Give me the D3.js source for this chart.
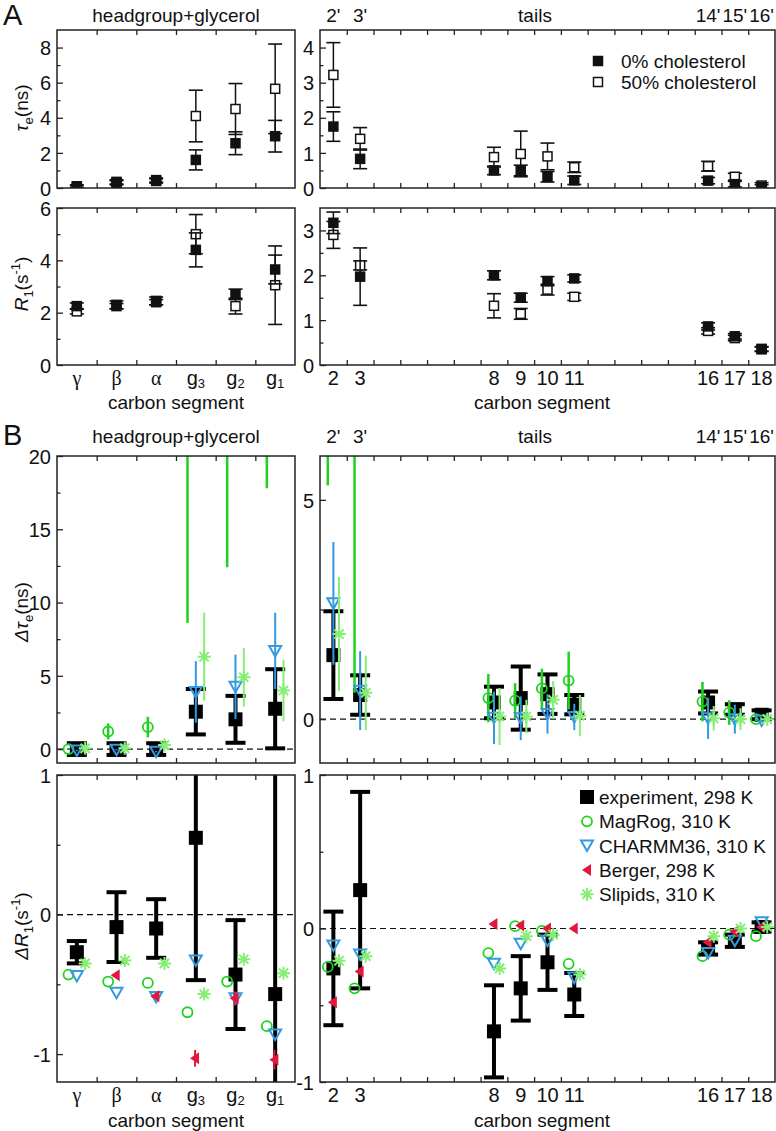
<!DOCTYPE html>
<html><head><meta charset="utf-8">
<script src="https://cdn.jsdelivr.net/npm/d3@7"></script>
<style>
body{margin:0;background:#fff}
text{font-family:"Liberation Sans",Arial,sans-serif;fill:#111}
</style>
</head><body>
<svg id="c" width="776" height="1131"></svg>
<script>
// ---------------- categories ----------------
const headCats = ["γ","β","α","g3","g2","g1"];
const headPos  = [0,1,2,3,4,5];
const tailCats = [2,3,8,9,10,11,16,17,18];
const tailTop  = {2:"2'",3:"3'",16:"14'",17:"15'",18:"16'"};

// ---------------- Panel A: tau_e (ns) ----------------
const tauHead0   = [0.05,0.30,0.40,1.60,2.55,2.95];
const tauHead0E  = [0.08,0.12,0.12,0.57,0.65,0.90];
const tauHead50  = [0.10,0.35,0.45,4.10,4.50,5.65];
const tauHead50E = [0.08,0.12,0.12,1.47,1.45,2.55];
const tauTail0   = [1.75,0.83,0.50,0.50,0.32,0.22,0.21,0.11,0.03];
const tauTail0E  = [0.42,0.28,0.12,0.15,0.15,0.12,0.09,0.08,0.06];
const tauTail50  = [3.22,1.40,0.88,0.97,0.90,0.59,0.62,0.32,0.07];
const tauTail50E = [0.92,0.32,0.28,0.65,0.38,0.15,0.14,0.10,0.08];

// ---------------- Panel A: R1 (s-1) ----------------
const r1Head0   = [2.25,2.30,2.45,4.40,2.70,3.65];
const r1Head0E  = [0.12,0.15,0.15,0.65,0.20,0.55];
const r1Head50  = [2.05,2.25,2.40,5.00,2.25,3.05];
const r1Head50E = [0.10,0.10,0.10,0.75,0.30,1.50];
const r1Tail0   = [3.17,1.97,2.00,1.50,1.87,1.93,0.86,0.64,0.36];
const r1Tail0E  = [0.24,0.64,0.10,0.10,0.10,0.08,0.08,0.06,0.05];
const r1Tail50  = [2.90,2.22,1.32,1.14,1.68,1.52,0.76,0.60,0.35];
const r1Tail50E = [0.30,0.10,0.27,0.12,0.12,0.08,0.07,0.06,0.05];

// ---------------- Panel B: delta tau_e (ns) ----------------
const dtHeadExp  = [0.00,0.00,0.00,2.55,2.03,2.75];
const dtHeadExpE = [0.40,0.40,0.40,1.55,1.60,2.70];
const dtHeadMag  = [0.00,1.20,1.50,26.0,28.0,32.0];
const dtHeadMagE = [0.05,0.55,0.70,17.4,15.6,14.2];
const dtHeadCh   = [-0.10,-0.05,-0.18,3.90,4.25,6.70];
const dtHeadChE  = [0.05,0.05,0.05,2.10,2.20,2.60];
const dtHeadSl   = [0.05,0.05,0.27,6.30,4.90,4.00];
const dtHeadSlE  = [0.05,0.05,0.05,3.00,2.00,2.10];

const dtTailExp  = [1.46,0.55,0.38,0.48,0.57,0.33,0.38,0.22,0.10];
const dtTailExpE = [1.00,0.45,0.36,0.72,0.45,0.22,0.25,0.12,0.10];
const dtTailMag  = [7.50,7.50,0.48,0.42,0.70,0.88,0.40,0.15,0.00];
const dtTailMagE = [2.17,6.90,0.55,0.40,0.45,0.66,0.45,0.28,0.05];
const dtTailCh   = [2.64,0.65,0.03,0.02,0.12,0.05,0.02,0.00,-0.03];
const dtTailChE  = [1.40,0.90,0.60,0.50,0.45,0.30,0.47,0.33,0.05];
const dtTailSl   = [1.94,0.60,0.06,0.06,0.44,0.08,0.02,0.00,0.00];
const dtTailSlE  = [1.30,0.85,0.65,0.38,0.43,0.47,0.28,0.25,0.05];

// ---------------- Panel B: delta R1 (s-1) ----------------
const drHeadExp  = [-0.27,-0.09,-0.10,0.55,-0.43,-0.57];
const drHeadExpE = [0.08,0.25,0.21,1.02,0.39,1.70];
const drHeadMag  = [-0.43,-0.48,-0.49,-0.70,-0.48,-0.80];
const drHeadCh   = [-0.44,-0.56,-0.59,-0.33,-0.60,-0.86];
const drHeadBe   = [null,-0.435,-0.585,-1.03,-0.60,-1.04];
const drHeadBeE  = [0,0,0,0.06,0.05,0.07];
const drHeadSl   = [-0.35,-0.33,-0.35,-0.57,-0.32,-0.42];

const drTailExp  = [-0.26,0.25,-0.67,-0.39,-0.22,-0.43,-0.13,-0.08,0.01];
const drTailExpE = [0.37,0.64,0.30,0.21,0.18,0.14,0.04,0.04,0.03];
const drTailMag  = [-0.25,-0.39,-0.16,0.015,-0.015,-0.23,-0.18,-0.04,-0.05];
const drTailCh   = [-0.11,-0.17,-0.23,-0.10,-0.08,-0.32,-0.16,-0.08,0.04];
const drTailBe   = [-0.48,-0.28,0.03,0.02,0.00,0.00,-0.09,-0.02,0.01];
const drTailSl   = [-0.21,-0.18,-0.26,-0.05,-0.04,-0.30,-0.05,0.00,0.01];

const legendA = ["0% cholesterol","50% cholesterol"];
const legendB = ["experiment, 298 K","MagRog, 310 K","CHARMM36, 310 K","Berger, 298 K","Slipids, 310 K"];

// ---------------- colours ----------------
const C = {exp:"#000", mag:"#1ed21e", ch:"#3399e0", be:"#e3173e", sl:"#86ee74"};

// ---------------- drawing ----------------
const svg = d3.select("#c");
const defs = svg.append("defs");
const xHead = d3.scaleLinear().domain([-0.5,5.5]).range([57,295]);
const xTail = d3.scaleLinear().domain([1.5,18.5]).range([320,775]);
let clipN = 0;

function panel(x, y0, y1, domain, major, minor, xTicks) {
  const y = d3.scaleLinear().domain(domain).range([y1, y0]);
  const [xa, xb] = x.range();
  const id = "clip" + (clipN++);
  defs.append("clipPath").attr("id", id).append("rect")
    .attr("x", xa).attr("y", y0).attr("width", xb - xa).attr("height", y1 - y0);
  const g = svg.append("g");
  const plot = g.append("g").attr("clip-path", `url(#${id})`);
  const ax = g.append("g").attr("transform", `translate(${xa},0)`)
    .call(d3.axisLeft(y).tickValues(major).tickSize(-6).tickPadding(6).tickFormat(d => String(d)));
  ax.select(".domain").remove();
  ax.selectAll("text").attr("font-size", 20).attr("dy", "0.36em").style("font-family","'Liberation Sans',Arial,sans-serif");
  ax.selectAll("line").attr("stroke", "#222").attr("stroke-width", 1.3);
  const mi = g.append("g").attr("transform", `translate(${xa},0)`)
    .call(d3.axisLeft(y).tickValues(minor).tickSize(-3.5).tickFormat(""));
  mi.select(".domain").remove();
  mi.selectAll("line").attr("stroke", "#222").attr("stroke-width", 1.3);
  const tt = g.append("g").attr("transform", `translate(0,${y0})`)
    .call(d3.axisBottom(x).tickValues(xTicks).tickSize(5).tickFormat(""));
  tt.select(".domain").remove();
  tt.selectAll("line").attr("stroke", "#222").attr("stroke-width", 1.3);
  const tb = g.append("g").attr("transform", `translate(0,${y1})`)
    .call(d3.axisTop(x).tickValues(xTicks).tickSize(5).tickFormat(""));
  tb.select(".domain").remove();
  tb.selectAll("line").attr("stroke", "#222").attr("stroke-width", 1.3);
  g.append("rect").attr("x", xa).attr("y", y0).attr("width", xb - xa).attr("height", y1 - y0)
    .attr("fill", "none").attr("stroke", "#222").attr("stroke-width", 1.5);
  return {y, plot, g};
}

const headTicks = [0.5,1.5,2.5,3.5,4.5];
const tailTicks = d3.range(2.5, 18, 1);

// error bar with caps + square (panel A style)
function drawA(p, x, pos, vals, errs, filled) {
  const gg = p.plot.append("g");
  vals.forEach((v, i) => {
    const cx = x(pos[i]), e = errs[i];
    gg.append("line").attr("x1", cx).attr("x2", cx).attr("y1", p.y(v - e)).attr("y2", p.y(v + e))
      .attr("stroke", "#111").attr("stroke-width", 1.5);
    [v - e, v + e].forEach(b => gg.append("line").attr("x1", cx - 7).attr("x2", cx + 7)
      .attr("y1", p.y(b)).attr("y2", p.y(b)).attr("stroke", "#111").attr("stroke-width", 1.6));
    gg.append("rect").attr("x", cx - 4.5).attr("y", p.y(v) - 4.5).attr("width", 9).attr("height", 9)
      .attr("fill", filled ? "#111" : "#fff").attr("stroke", "#111").attr("stroke-width", 1.5);
  });
}

function drawExp(p, x, pos, vals, errs) {
  const gg = p.plot.append("g");
  vals.forEach((v, i) => {
    const cx = x(pos[i]), e = errs[i];
    gg.append("line").attr("x1", cx).attr("x2", cx).attr("y1", p.y(v - e)).attr("y2", p.y(v + e))
      .attr("stroke", "#000").attr("stroke-width", 4);
    [v - e, v + e].forEach(b => gg.append("line").attr("x1", cx - 10).attr("x2", cx + 10)
      .attr("y1", p.y(b)).attr("y2", p.y(b)).attr("stroke", "#000").attr("stroke-width", 4));
    gg.append("rect").attr("x", cx - 7).attr("y", p.y(v) - 7).attr("width", 14).attr("height", 14).attr("fill", "#000");
  });
}

const symbols = {
  mag: (g, cx, cy) => g.append("circle").attr("cx", cx).attr("cy", cy).attr("r", 5)
        .attr("fill", "none").attr("stroke", C.mag).attr("stroke-width", 1.8),
  ch:  (g, cx, cy) => g.append("path").attr("d", `M${cx-6},${cy-5}L${cx+6},${cy-5}L${cx},${cy+5.5}Z`)
        .attr("fill", "none").attr("stroke", C.ch).attr("stroke-width", 2),
  be:  (g, cx, cy) => g.append("path").attr("d", `M${cx-5},${cy}L${cx+4},${cy-6}L${cx+4},${cy+6}Z`)
        .attr("fill", C.be),
  sl:  (g, cx, cy) => g.append("path")
        .attr("d", `M${cx},${cy-6.5}V${cy+6.5}M${cx-6.5},${cy}H${cx+6.5}M${cx-4.6},${cy-4.6}L${cx+4.6},${cy+4.6}M${cx-4.6},${cy+4.6}L${cx+4.6},${cy-4.6}`)
        .attr("stroke", C.sl).attr("stroke-width", 2).attr("fill", "none")
};

function drawModel(p, x, pos, vals, errs, key, off) {
  const gg = p.plot.append("g");
  vals.forEach((v, i) => {
    if (v === null) return;
    const cx = x(pos[i] + off);
    const e = errs ? errs[i] : 0;
    if (e > 0) gg.append("line").attr("x1", cx).attr("x2", cx).attr("y1", p.y(v - e)).attr("y2", p.y(v + e))
      .attr("stroke", C[key]).attr("stroke-width", key === "mag" ? 2.5 : 2);
    symbols[key](gg, cx, p.y(v));
  });
}

function zeroLine(p, x) {
  const [xa, xb] = x.range();
  p.plot.append("line").attr("x1", xa).attr("x2", xb).attr("y1", p.y(0)).attr("y2", p.y(0))
    .attr("stroke", "#111").attr("stroke-width", 1.2).attr("stroke-dasharray", "6,4");
}

// ----- Panel A -----
const pA1 = panel(xHead, 30, 188, [0, 9], [0,2,4,6,8], [1,3,5,7], headTicks);
const pA2 = panel(xTail, 30, 188, [0, 4.5], [0,1,2,3,4], [0.5,1.5,2.5,3.5], tailTicks);
const pA3 = panel(xHead, 208, 365, [0, 6], [0,2,4,6], [1,3,5], headTicks);
const pA4 = panel(xTail, 208, 365, [0, 3.5], [0,1,2,3], [0.5,1.5,2.5], tailTicks);

drawA(pA1, xHead, headPos, tauHead50, tauHead50E, false);
drawA(pA1, xHead, headPos, tauHead0, tauHead0E, true);
drawA(pA2, xTail, tailCats, tauTail50, tauTail50E, false);
drawA(pA2, xTail, tailCats, tauTail0, tauTail0E, true);
drawA(pA3, xHead, headPos, r1Head50, r1Head50E, false);
drawA(pA3, xHead, headPos, r1Head0, r1Head0E, true);
drawA(pA4, xTail, tailCats, r1Tail50, r1Tail50E, false);
drawA(pA4, xTail, tailCats, r1Tail0, r1Tail0E, true);

// ----- Panel B -----
const pB1 = panel(xHead, 456, 763, [-0.95, 20], [0,5,10,15,20], [2.5,7.5,12.5,17.5], headTicks);
const pB2 = panel(xTail, 456, 763, [-1, 6], [0,5], [2.5], tailTicks);
const pB3 = panel(xHead, 775, 1082, [-1.2, 1], [-1,0,1], [-0.5,0.5], headTicks);
const pB4 = panel(xTail, 775, 1082, [-1, 1], [-1,0,1], [-0.5,0.5], tailTicks);
[[pB1,xHead],[pB2,xTail],[pB3,xHead],[pB4,xTail]].forEach(([p,x]) => zeroLine(p, x));

const OFF = 0.21;
drawExp(pB1, xHead, headPos, dtHeadExp, dtHeadExpE);
drawModel(pB1, xHead, headPos, dtHeadMag, dtHeadMagE, "mag", -OFF);
drawModel(pB1, xHead, headPos, dtHeadCh, dtHeadChE, "ch", 0);
drawModel(pB1, xHead, headPos, dtHeadSl, dtHeadSlE, "sl", OFF);

drawExp(pB2, xTail, tailCats, dtTailExp, dtTailExpE);
drawModel(pB2, xTail, tailCats, dtTailMag, dtTailMagE, "mag", -OFF);
drawModel(pB2, xTail, tailCats, dtTailCh, dtTailChE, "ch", 0);
drawModel(pB2, xTail, tailCats, dtTailSl, dtTailSlE, "sl", OFF);

drawExp(pB3, xHead, headPos, drHeadExp, drHeadExpE);
drawModel(pB3, xHead, headPos, drHeadMag, null, "mag", -OFF);
drawModel(pB3, xHead, headPos, drHeadCh, null, "ch", 0);
drawModel(pB3, xHead, headPos, drHeadBe, drHeadBeE, "be", -0.02);
drawModel(pB3, xHead, headPos, drHeadSl, null, "sl", OFF);

drawExp(pB4, xTail, tailCats, drTailExp, drTailExpE);
drawModel(pB4, xTail, tailCats, drTailMag, null, "mag", -OFF);
drawModel(pB4, xTail, tailCats, drTailCh, null, "ch", 0);
drawModel(pB4, xTail, tailCats, drTailBe, null, "be", -0.02);
drawModel(pB4, xTail, tailCats, drTailSl, null, "sl", OFF);

// ----- texts -----
function txt(x, y, s, size, anchor) {
  return svg.append("text").attr("x", x).attr("y", y).attr("font-size", size)
    .attr("text-anchor", anchor || "middle").text(s);
}
// panel letters
txt(3, 25, "A", 29, "start");
txt(3, 445, "B", 29, "start");

// group headers
[22, 443].forEach(by => {
  txt(176, by, "headgroup+glycerol", 19);
  txt(535, by, "tails", 19);
  tailCats.forEach(c => { if (tailTop[c]) txt(xTail(c), by, tailTop[c], 19); });
});

// x category labels
function catLabels(by) {
  headCats.forEach((c, i) => {
    const t = svg.append("text").attr("x", xHead(headPos[i])).attr("y", by).attr("text-anchor", "middle").attr("font-size", 20);
    if (c.startsWith("g")) {
      t.append("tspan").text("g");
      t.append("tspan").attr("font-size", 13).attr("dy", 3).text(c.slice(1));
    } else {
      t.style("font-family", "'Liberation Serif','Times New Roman',serif").text(c);
    }
  });
  tailCats.forEach(c => txt(xTail(c), by, String(c), 20));
}
catLabels(385);
catLabels(1102);
txt(176, 409, "carbon segment", 19);
txt(542, 409, "carbon segment", 19);
txt(176, 1127, "carbon segment", 19);
txt(542, 1127, "carbon segment", 19);

// y titles
function yTitle(cy, parts) {
  const t = svg.append("text").attr("transform", `translate(28,${cy}) rotate(-90)`)
    .attr("text-anchor", "middle").attr("font-size", 19);
  parts.forEach(p => {
    const s = t.append("tspan").text(p.t);
    if (p.it) s.attr("font-style", "italic");
    if (p.fs) s.attr("font-size", p.fs);
    if (p.dy) s.attr("dy", p.dy);
  });
}
yTitle(108, [{t:"τ",it:1},{t:"e",fs:13,dy:5},{t:"(ns)",dy:-5}]);
yTitle(284, [{t:"R",it:1},{t:"1",fs:13,dy:5},{t:"(s",dy:-5},{t:"-1",fs:13,dy:-8},{t:")",dy:8}]);
yTitle(612, [{t:"Δτ",it:1},{t:"e",fs:13,dy:5},{t:"(ns)",dy:-5}]);
yTitle(926, [{t:"ΔR",it:1},{t:"1",fs:13,dy:5},{t:"(s",dy:-5},{t:"-1",fs:13,dy:-8},{t:")",dy:8}]);

// legend A
legendA.forEach((s, i) => {
  const cy = 61 + i * 21;
  svg.append("rect").attr("x", 593.5).attr("y", cy - 4.5).attr("width", 9).attr("height", 9)
    .attr("fill", i === 0 ? "#111" : "#fff").attr("stroke", "#111").attr("stroke-width", 1.5);
  txt(621, cy + 7, s, 19, "start");
});

// legend B
const legKeys = ["exp","mag","ch","be","sl"];
legendB.forEach((s, i) => {
  const cy = 797 + i * 24.3, cx = 587;
  const k = legKeys[i];
  if (k === "exp") svg.append("rect").attr("x", cx - 7).attr("y", cy - 7).attr("width", 14).attr("height", 14).attr("fill", "#000");
  else symbols[k](svg, cx, cy);
  txt(599, cy + 7, s, 19, "start");
});
</script>
</body></html>
